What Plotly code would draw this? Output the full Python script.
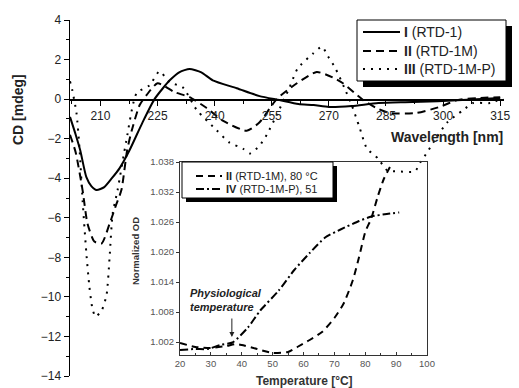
import plotly.graph_objects as go

# ---------------- data ----------------
wl_I = [202, 203.5, 204.7, 206.3, 207.6, 209, 211, 213, 215, 217.6, 221, 224.2, 228.2, 230.8, 233.4, 236.5,
        239.5, 245.8, 251.8, 257, 262, 266, 270, 276, 283, 292, 305, 315]
cd_I = [-0.9, -1.8, -2.6, -3.95, -4.4, -4.6, -4.45, -4.0, -3.5, -2.6, -1.2, 0.0, 0.95, 1.37, 1.52, 1.35,
        0.95, 0.55, 0.15, -0.05, -0.25, -0.3, -0.4, -0.35, -0.2, -0.15, -0.05, 0.05]

wl_II = [202, 203.5, 205.3, 206.6, 208.4, 210.3, 212.4, 214.2, 215.5, 217, 218.2, 220.3, 222.1, 225, 229.5,
         233.4, 237.9, 242, 248.4, 251.8, 256.3, 261.6, 266.8, 271, 273.7, 279, 282.6, 286, 293, 299, 303.7,
         309, 315]
cd_II = [-1.8, -2.7, -4.6, -6.3, -7.2, -7.3, -6.3, -5.3, -4.6, -2.6, -1.6, -0.3, 0.2, 0.8, 0.35,
         0.1, -0.45, -1.07, -1.6, -1.17, 0.0, 0.8, 1.37, 1.1, 0.8, -0.05, -0.46, -0.7, -0.7, -0.4, -0.05,
         0.05, 0.1]

wl_III = [202, 202.6, 203.7, 204.5, 205.3, 206.3, 207.1, 207.9, 208.7, 210.3, 211.6, 212.4, 213.2, 214.5,
          216.8, 219.5, 222.9, 225.5, 228.2, 231.6, 235.3, 240.5, 243.9, 247.4, 249.2, 251.8, 253.7, 256.3,
          259.7, 261.8, 265.8, 268.2, 269.8, 271.6, 274, 276, 278, 280, 282.9, 285.3, 288, 292.6, 294,
          295.8, 297.4, 301, 305.3, 307.9, 312.4, 315.8]
cd_III = [0.9, 0.45, -0.7, -2.5, -5.1, -7.8, -9.5, -10.6, -11.0, -10.7, -9.9, -8.0, -5.8, -4.6,
          -2.1, 0.3, 0.7, 1.4, 0.85, 0.6, -0.55, -1.57, -2.2, -2.5, -2.75, -2.35, -1.8, -0.8,
          0.6, 1.55, 2.3, 2.65, 2.15, 1.6, 0.6, -0.3, -1.4, -2.5, -3.0, -3.6, -3.65, -3.65, -3.2,
          -2.7, -2.2, -1.2, -0.55, -0.2, -0.2, 0.05]

temp_II = [20, 25, 30, 35, 38, 40, 45, 50, 55, 58, 62, 66, 70, 73, 76, 78, 80, 82, 84, 86, 88]
od_II = [1.0018, 1.0010, 1.0008, 1.0012, 1.0016, 1.0014, 1.0006, 0.9998, 1.0000, 1.0010, 1.0024, 1.0040,
         1.0068, 1.0097, 1.0144, 1.0190, 1.0240, 1.0268, 1.0310, 1.0346, 1.0370]

temp_IV = [20, 25, 29, 33, 37, 42, 46, 52, 57, 62, 67, 72, 78, 82, 87, 91]
od_IV = [1.0004, 1.0006, 1.0006, 1.0014, 1.0019, 1.0049, 1.0083, 1.0123, 1.0164, 1.0198, 1.0229, 1.0245,
         1.0262, 1.0271, 1.0276, 1.0279]

names_main = ["<b>I</b> (RTD-1)", "<b>II</b> (RTD-1M)", "<b>III</b> (RTD-1M-P)"]
names_inset = ["<b>II</b> (RTD-1M), 80 °C", "<b>IV</b> (RTD-1M-P), 51"]

# ---------------- geometry helpers (pixel -> paper) ----------------
W, H = 519, 388
ML, MR, MT, MB = 70, 15, 20, 12
PW, PH = W - ML - MR, H - MT - MB


def px(x):
    return (x - ML) / PW


def py(y):
    return (H - MB - y) / PH


FONT = "Liberation Sans, Arial, sans-serif"
DASH_II = "8px,5px"
DOT_III = "2px,6px"
DASH_II_IN = "7px,5px"
DASHDOT_IV = "8px,3px,2px,3px"

fig = go.Figure()
fig.add_trace(go.Scatter(x=wl_I, y=cd_I, mode="lines", name=names_main[0], showlegend=False,
                         line=dict(color="black", width=2, shape="spline", smoothing=0.6)))
fig.add_trace(go.Scatter(x=wl_II, y=cd_II, mode="lines", name=names_main[1], showlegend=False,
                         line=dict(color="black", width=2, dash=DASH_II, shape="spline", smoothing=0.6)))
fig.add_trace(go.Scatter(x=wl_III, y=cd_III, mode="lines", name=names_main[2], showlegend=False,
                         line=dict(color="black", width=2, dash=DOT_III, shape="spline", smoothing=0.6)))

fig.add_trace(go.Scatter(x=temp_II, y=od_II, mode="lines", name=names_inset[0], xaxis="x2", yaxis="y2",
                         showlegend=False,
                         line=dict(color="black", width=2, dash=DASH_II_IN, shape="spline", smoothing=0.6)))
fig.add_trace(go.Scatter(x=temp_IV, y=od_IV, mode="lines", name=names_inset[1], xaxis="x2", yaxis="y2",
                         showlegend=False,
                         line=dict(color="black", width=2, dash=DASHDOT_IV, shape="spline", smoothing=0.6)))

fig.update_layout(
    template="none",
    width=W, height=H, autosize=False,
    margin=dict(l=ML, r=MR, t=MT, b=MB),
    paper_bgcolor="white", plot_bgcolor="rgba(0,0,0,0)",
    font=dict(family=FONT, color="#222", size=12),
    hovermode=False,
    xaxis=dict(range=[202, 316], domain=[0, 1], anchor="free", position=14 / 18, automargin=False,
               showline=True, linecolor="black", linewidth=1.5, showgrid=False, zeroline=False,
               ticks="outside", ticklen=5, tickcolor="black", tick0=210, dtick=15,
               minor=dict(ticks="outside", ticklen=3, dtick=7.5, tick0=210, tickcolor="black"),
               tickfont=dict(size=12, color="#222")),
    yaxis=dict(range=[-14, 4], domain=[0, 1], showline=True, linecolor="black", linewidth=1.5,
               automargin=False,
               showgrid=False, zeroline=False, ticks="outside", ticklen=5, tickcolor="black",
               tick0=0, dtick=2,
               minor=dict(ticks="outside", ticklen=3, dtick=1, tickcolor="black"),
               tickfont=dict(size=12, color="#222")),
    xaxis2=dict(range=[20, 100], domain=[px(180), px(427)], anchor="y2", showline=True, mirror=True,
                automargin=False,
                linecolor="#333", linewidth=1, showgrid=False, zeroline=False,
                ticks="inside", ticklen=3, tickcolor="#333", tick0=20, dtick=10,
                minor=dict(ticks="inside", ticklen=2, dtick=5, tickcolor="#333"),
                tickfont=dict(size=9.5, color="#555")),
    yaxis2=dict(range=[0.9994, 1.038], domain=[py(355), py(162)], anchor="x2", showline=True, mirror=True,
                automargin=False,
                linecolor="#333", linewidth=1, showgrid=False, zeroline=False,
                ticks="outside", ticklen=3, tickcolor="#333", tick0=1.002, dtick=0.006,
                tickformat=".3f", tickfont=dict(size=9.5, color="#555")),
)

# ---------------- legends (box, shadow, keys, labels) ----------------
def legend_box(x0, y0, x1, y1, shadow):
    fig.add_shape(type="rect", xref="paper", yref="paper", x0=px(x0 + shadow), x1=px(x1 + shadow),
                  y0=py(y1 + shadow), y1=py(y0 + shadow), fillcolor="black", line=dict(width=0),
                  layer="above")
    fig.add_shape(type="rect", xref="paper", yref="paper", x0=px(x0), x1=px(x1), y0=py(y1), y1=py(y0),
                  fillcolor="white", line=dict(color="black", width=1), layer="above")


def legend_item(kx0, kx1, y, dash, label, size):
    fig.add_shape(type="line", xref="paper", yref="paper", x0=px(kx0), x1=px(kx1), y0=py(y), y1=py(y),
                  line=dict(color="black", width=2, dash=dash), layer="above")
    fig.add_annotation(text=label, xref="paper", yref="paper", x=px(kx1 + 2), y=py(y), xanchor="left",
                       yanchor="middle", showarrow=False, font=dict(size=size, color="#222"))


legend_box(357, 20, 506, 81, 6)
legend_item(363, 400, 32, "solid", names_main[0], 14)
legend_item(363, 400, 51, DASH_II, names_main[1], 14)
legend_item(363, 400, 69, DOT_III, names_main[2], 14)

legend_box(182, 162, 333, 198, 4)
legend_item(196, 222, 176, DASH_II_IN, names_inset[0], 11)
legend_item(196, 222, 189, DASHDOT_IV, names_inset[1], 11)

# ---------------- axis titles ----------------
fig.add_annotation(text="<b>CD [mdeg]</b>", xref="paper", yref="paper", x=px(18), y=py(110),
                   xanchor="center", yanchor="middle",
                   textangle=-90, showarrow=False, font=dict(size=14, color="#222"))
fig.add_annotation(text="<b>Wavelength [nm]</b>", xref="paper", yref="paper", x=px(505), y=py(137),
                   xanchor="right", yanchor="middle", showarrow=False, font=dict(size=14, color="#222"))
fig.add_annotation(text="<b>Normalized OD</b>", xref="paper", yref="paper", x=px(135), y=py(251),
                   xanchor="center", yanchor="middle",
                   textangle=-90, showarrow=False, font=dict(size=9.5, color="#333"))
fig.add_annotation(text="<b>Temperature [°C]</b>", xref="paper", yref="paper", x=px(304), y=py(381),
                   xanchor="center", yanchor="middle",
                   showarrow=False, font=dict(size=12, color="#333"))

# ---------------- physiological temperature note + arrow ----------------
fig.add_annotation(text="<b><i>Physiological<br>temperature</i></b>", xref="x2", yref="y2",
                   x=22.6, y=1.0104, xanchor="left", yanchor="middle", showarrow=False, align="left",
                   font=dict(size=11, color="#222"))
fig.add_annotation(text="", xref="x2", yref="y2", x=36.8, y=1.0030, ax=0, ay=-20,
                   showarrow=True, arrowhead=2, arrowsize=1, arrowwidth=1, arrowcolor="#222")

fig.write_html("out.html", config={"displayModeBar": False, "staticPlot": True},
               post_script="document.body.style.margin='0';document.body.style.overflow='hidden';")
